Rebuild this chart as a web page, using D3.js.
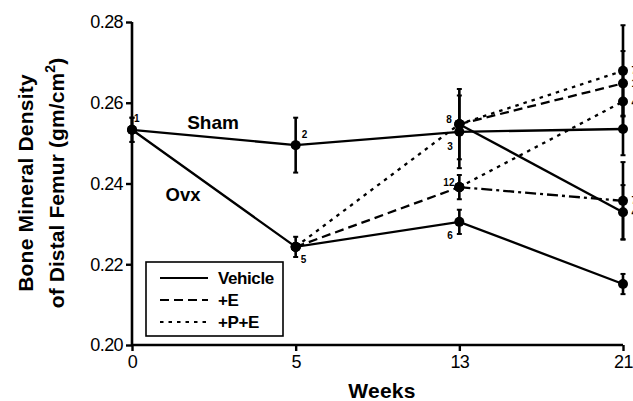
<!DOCTYPE html>
<html><head><meta charset="utf-8">
<script src="https://cdn.jsdelivr.net/npm/d3@7"></script>
<style>
html,body{margin:0;padding:0;background:#fff;}
svg{display:block;font-family:"Liberation Sans",Arial,Helvetica,sans-serif;}
</style></head>
<body>
<svg id="chart" width="633" height="401"></svg>
<script>
// ---- data ----
const weeks = ["0", "5", "13", "21"];
const yTicks = [0.20, 0.22, 0.24, 0.26, 0.28];

const shamValues = [0.2533, 0.2495, 0.2528, 0.2535];
const shamErr    = [0.003, 0.0068, 0.009, 0.0065];
const ovxVehicleValues = [0.2533, 0.2243, 0.2305, 0.2151];
const ovxVehicleErr    = [0.003, 0.0025, 0.003, 0.0025];
const pe5Values  = [null, 0.2243, 0.2547, 0.2679];
const pe5Err     = [null, 0, 0.0087, 0.0113];
const pe5ToEValues = [null, null, 0.2547, 0.2648];
const pe5ToEErr    = [null, null, 0, 0.008];
const pe5ToVehicleValues = [null, null, 0.2547, 0.2329];
const pe5ToVehicleErr    = [null, null, 0, 0.0067];
const e5Values   = [null, 0.2243, 0.2391, null];
const e5Err      = [null, 0, 0.003, null];
const e5ContValues = [null, null, 0.2391, 0.2357];
const e5ContErr    = [null, null, 0, 0.0096];
const e5ToPEValues = [null, null, 0.2391, 0.2603];
const e5ToPEErr    = [null, null, 0, 0.007];

const pointLabels = [
  {week: "0",  value: 0.2533, text: "1",  dx: 2,   dy: -8},
  {week: "5",  value: 0.2495, text: "2",  dx: 6,   dy: -7},
  {week: "13", value: 0.2528, text: "3",  dx: -12, dy: 18},
  {week: "5",  value: 0.2243, text: "5",  dx: 5,   dy: 16},
  {week: "13", value: 0.2305, text: "6",  dx: -12, dy: 17},
  {week: "13", value: 0.2547, text: "8",  dx: -13, dy: -1},
  {week: "13", value: 0.2391, text: "12", dx: -16, dy: -1},
  {week: "21", value: 0.2679, text: "7",  dx: 8.5, dy: 3},
  {week: "21", value: 0.2648, text: "10", dx: 8.5, dy: 4},
  {week: "21", value: 0.2603, text: "4",  dx: 8.5, dy: 4},
  {week: "21", value: 0.2357, text: "7",  dx: 8.5, dy: 3},
  {week: "21", value: 0.2329, text: "4",  dx: 8.5, dy: 4}
];

const series = [
  {values: shamValues, err: shamErr, style: "solid"},
  {values: ovxVehicleValues, err: ovxVehicleErr, style: "solid"},
  {values: pe5Values, err: pe5Err, style: "dotted"},
  {values: pe5ToEValues, err: pe5ToEErr, style: "dashed"},
  {values: pe5ToVehicleValues, err: pe5ToVehicleErr, style: "solid"},
  {values: e5Values, err: e5Err, style: "dashed"},
  {values: e5ContValues, err: e5ContErr, style: "dashdot"},
  {values: e5ToPEValues, err: e5ToPEErr, style: "dotted"}
];

const legendItems = [
  {label: "Vehicle", style: "solid"},
  {label: "+E", style: "dashed"},
  {label: "+P+E", style: "dotted"}
];

const dashes = {solid: null, dashed: "9,5", dotted: "3.5,5", dashdot: "11,4,3,4"};

// ---- chart ----
const svg = d3.select("#chart");
const x = d3.scalePoint().domain(weeks).range([132, 623]).padding(0);
const y = d3.scaleLinear().domain([0.20, 0.28]).range([345, 22]);

// axes
const yAxis = svg.append("g").attr("transform", "translate(132,0)")
  .call(d3.axisLeft(y).tickValues(yTicks).tickFormat(d3.format(".2f")).tickSize(6).tickSizeOuter(0).tickPadding(3));
const xAxis = svg.append("g").attr("transform", "translate(0,345)")
  .call(d3.axisBottom(x).tickSize(6).tickSizeOuter(0).tickPadding(2));
[yAxis, xAxis].forEach(g => {
  g.select(".domain").attr("stroke", "#000").attr("stroke-width", 2.6);
  g.selectAll(".tick line").attr("stroke", "#000").attr("stroke-width", 2.4);
  g.selectAll(".tick text").attr("fill", "#000").attr("font-size", 18)
    .attr("font-family", "'Liberation Sans', Arial, sans-serif").attr("letter-spacing", -0.6);
});
xAxis.select(".domain").attr("d", "M132,0H623");
yAxis.select(".domain").attr("d", "M0,345V22");
xAxis.selectAll(".tick text").attr("dy", "0.85em");

// axis titles
svg.append("text").attr("x", 382).attr("y", 398).attr("text-anchor", "middle")
  .attr("font-weight", "bold").attr("font-size", 21).attr("letter-spacing", 0.3).text("Weeks");
const yt = svg.append("g").attr("transform", "translate(0,183) rotate(-90)");
yt.append("text").attr("x", 0).attr("y", 33).attr("text-anchor", "middle")
  .attr("font-weight", "bold").attr("font-size", 21).attr("letter-spacing", 0.2).text("Bone Mineral Density");
const t2 = yt.append("text").attr("x", 0).attr("y", 64).attr("text-anchor", "middle")
  .attr("font-weight", "bold").attr("font-size", 21).attr("letter-spacing", 0.1);
t2.append("tspan").text("of Distal Femur (gm/cm");
t2.append("tspan").attr("font-size", 14).attr("dy", -9).text("2");
t2.append("tspan").attr("dy", 9).text(")");

// lines
const line = d3.line().defined(d => d.v != null).x(d => x(d.w)).y(d => y(d.v));
series.forEach(s => {
  const pts = weeks.map((w, i) => ({w, v: s.values[i], e: s.err[i]}));
  svg.append("path").datum(pts).attr("d", line).attr("fill", "none")
    .attr("stroke", "#000").attr("stroke-width", 2.3)
    .attr("stroke-dasharray", dashes[s.style]);
});
// error bars and points
series.forEach(s => {
  weeks.forEach((w, i) => {
    const v = s.values[i], e = s.err[i];
    if (v == null) return;
    if (e) {
      svg.append("line").attr("x1", x(w)).attr("x2", x(w))
        .attr("y1", y(v - e)).attr("y2", y(v + e)).attr("stroke", "#000").attr("stroke-width", 2.6);
      [v - e, v + e].forEach(c => svg.append("line").attr("x1", x(w) - 2.5).attr("x2", x(w) + 2.5)
        .attr("y1", y(c)).attr("y2", y(c)).attr("stroke", "#000").attr("stroke-width", 2));
    }
    svg.append("circle").attr("cx", x(w)).attr("cy", y(v)).attr("r", 5).attr("fill", "#000");
  });
});

// point labels
pointLabels.forEach(p => {
  svg.append("text").attr("x", x(p.week) + p.dx).attr("y", y(p.value) + p.dy)
    .attr("font-size", 10).attr("font-weight", "bold").text(p.text);
});

// group labels
svg.append("text").attr("x", 213).attr("y", 129).attr("text-anchor", "middle")
  .attr("font-weight", "bold").attr("font-size", 19).text("Sham");
svg.append("text").attr("x", 183).attr("y", 201).attr("text-anchor", "middle")
  .attr("font-weight", "bold").attr("font-size", 18.5).text("Ovx");

// legend
const lg = svg.append("g");
lg.append("rect").attr("x", 146).attr("y", 262).attr("width", 137).attr("height", 74)
  .attr("fill", "#fff").attr("stroke", "#000").attr("stroke-width", 1.6);
legendItems.forEach((d, i) => {
  const yy = 278 + i * 22;
  lg.append("line").attr("x1", 160).attr("x2", 208).attr("y1", yy).attr("y2", yy)
    .attr("stroke", "#000").attr("stroke-width", 2.2).attr("stroke-dasharray", dashes[d.style]);
  lg.append("text").attr("x", 218).attr("y", yy + 6).attr("font-weight", "bold")
    .attr("font-size", 17).attr("letter-spacing", -0.4).text(d.label);
});
</script>
</body></html>
